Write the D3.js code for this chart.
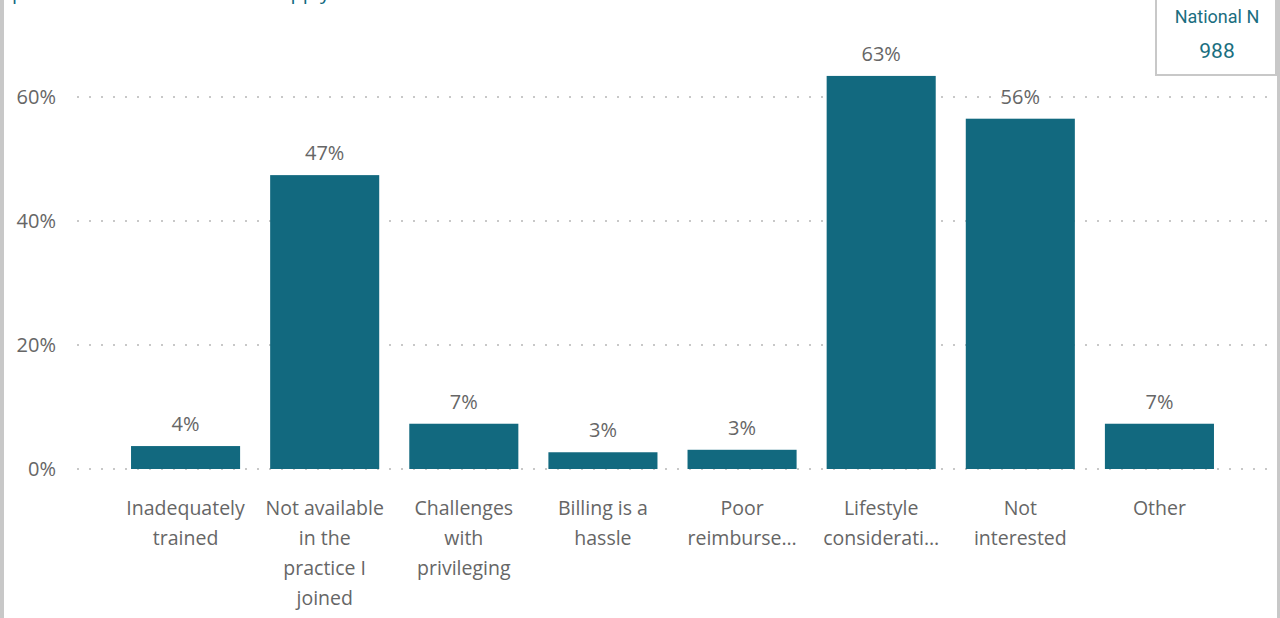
<!DOCTYPE html>
<html>
<head>
<meta charset="utf-8">
<script src="https://cdn.jsdelivr.net/npm/d3@7"></script>
<style>
  html, body { margin: 0; padding: 0; background: #fff; }
  svg { display: block; }
</style>
</head>
<body>
<svg id="chart" width="1280" height="618"></svg>
<script>
// ---- data ----
const categories = [
  "Inadequately trained",
  "Not available in the practice I joined",
  "Challenges with privileging",
  "Billing is a hassle",
  "Poor reimbursement",
  "Lifestyle considerations",
  "Not interested",
  "Other"
];
// displayed (wrapped / truncated) axis labels
const categoryLabels = [
  ["Inadequately", "trained"],
  ["Not available", "in the", "practice I", "joined"],
  ["Challenges", "with", "privileging"],
  ["Billing is a", "hassle"],
  ["Poor", "reimburse\u2026"],
  ["Lifestyle", "considerati\u2026"],
  ["Not", "interested"],
  ["Other"]
];
const values = [3.7, 47.4, 7.3, 2.7, 3.1, 63.4, 56.5, 7.3];
const yTicks = [0, 20, 40, 60];
const titleText = "please mark all reasons that apply";
const cardLabel = "National N";
const cardValue = "988";

// ---- drawing ----
const svg = d3.select("#chart");
const W = 1280, H = 618;
const teal = "#12697f";
const textGray = "#666666";
const font = "'Segoe UI', 'Open Sans', 'Noto Sans', sans-serif";

const x = d3.scaleBand()
  .domain(categories)
  .range([116, 1229])
  .paddingInner(0.216)
  .paddingOuter(0.108);

const y = d3.scaleLinear().domain([0, 60]).range([469, 97]);

// borders
svg.append("rect").attr("x", 0).attr("y", 0).attr("width", 4).attr("height", H).attr("fill", "#c8c8c8");
svg.append("rect").attr("x", 1277).attr("y", 0).attr("width", 3).attr("height", H).attr("fill", "#c8c8c8");

// title (cut off at top, as in the original)
svg.append("text")
  .attr("x", 12).attr("y", -1)
  .attr("font-family", font).attr("font-size", 20)
  .attr("fill", teal)
  .text(titleText);

// gridlines
const grid = svg.append("g");
grid.selectAll("line").data(yTicks).join("line")
  .attr("x1", 77).attr("x2", 1270)
  .attr("y1", d => y(d)).attr("y2", d => y(d))
  .attr("stroke", "#c8c8c8").attr("stroke-width", 2)
  .attr("stroke-dasharray", "2,10");

// y axis
const yAxis = svg.append("g")
  .attr("transform", "translate(56,0)")
  .call(d3.axisLeft(y).tickValues(yTicks).tickFormat(d => d + "%").tickSize(0).tickPadding(0));
yAxis.select(".domain").remove();
yAxis.selectAll("text")
  .attr("font-family", font).attr("font-size", 20).attr("fill", textGray);

// bars
svg.append("g").selectAll("rect").data(values).join("rect")
  .attr("x", (d, i) => x(categories[i]))
  .attr("width", x.bandwidth())
  .attr("y", d => y(d))
  .attr("height", d => y(0) - y(d))
  .attr("fill", teal);

// value labels
svg.append("g").selectAll("text").data(values).join("text")
  .attr("x", (d, i) => x(categories[i]) + x.bandwidth() / 2)
  .attr("y", d => y(d) - 15)
  .attr("text-anchor", "middle")
  .attr("font-family", font).attr("font-size", 20).attr("fill", textGray)
  .text(d => d3.format(".0f")(Math.floor(d + 0.45)) + "%");

// x axis
const xAxis = svg.append("g")
  .attr("transform", "translate(0,469)")
  .call(d3.axisBottom(x).tickSize(0).tickFormat(""));
xAxis.select(".domain").remove();
xAxis.selectAll(".tick").each(function(d, i) {
  const t = d3.select(this).select("text")
    .attr("font-family", font).attr("font-size", 19.5).attr("fill", textGray)
    .attr("text-anchor", "middle").attr("y", 0).attr("dy", null);
  t.selectAll("tspan").data(categoryLabels[i]).join("tspan")
    .attr("x", 0)
    .attr("y", (l, j) => 46 + j * 30)
    .text(l => l);
});

// card
const card = svg.append("g");
card.append("rect")
  .attr("x", 1156).attr("y", -4).attr("width", 120).attr("height", 79)
  .attr("fill", "#fff").attr("stroke", "#c8c8c8").attr("stroke-width", 2);
card.append("text")
  .attr("x", 1217).attr("y", 23).attr("text-anchor", "middle")
  .attr("font-family", "'DIN', 'Roboto', 'Noto Sans', sans-serif").attr("font-size", 18)
  .attr("fill", "#1a6e80").text(cardLabel);
card.append("text")
  .attr("x", 1217).attr("y", 58).attr("text-anchor", "middle")
  .attr("font-family", "'DIN', 'Roboto', 'Noto Sans', sans-serif").attr("font-size", 21)
  .attr("fill", "#1a6e80").text(cardValue);
</script>
</body>
</html>
